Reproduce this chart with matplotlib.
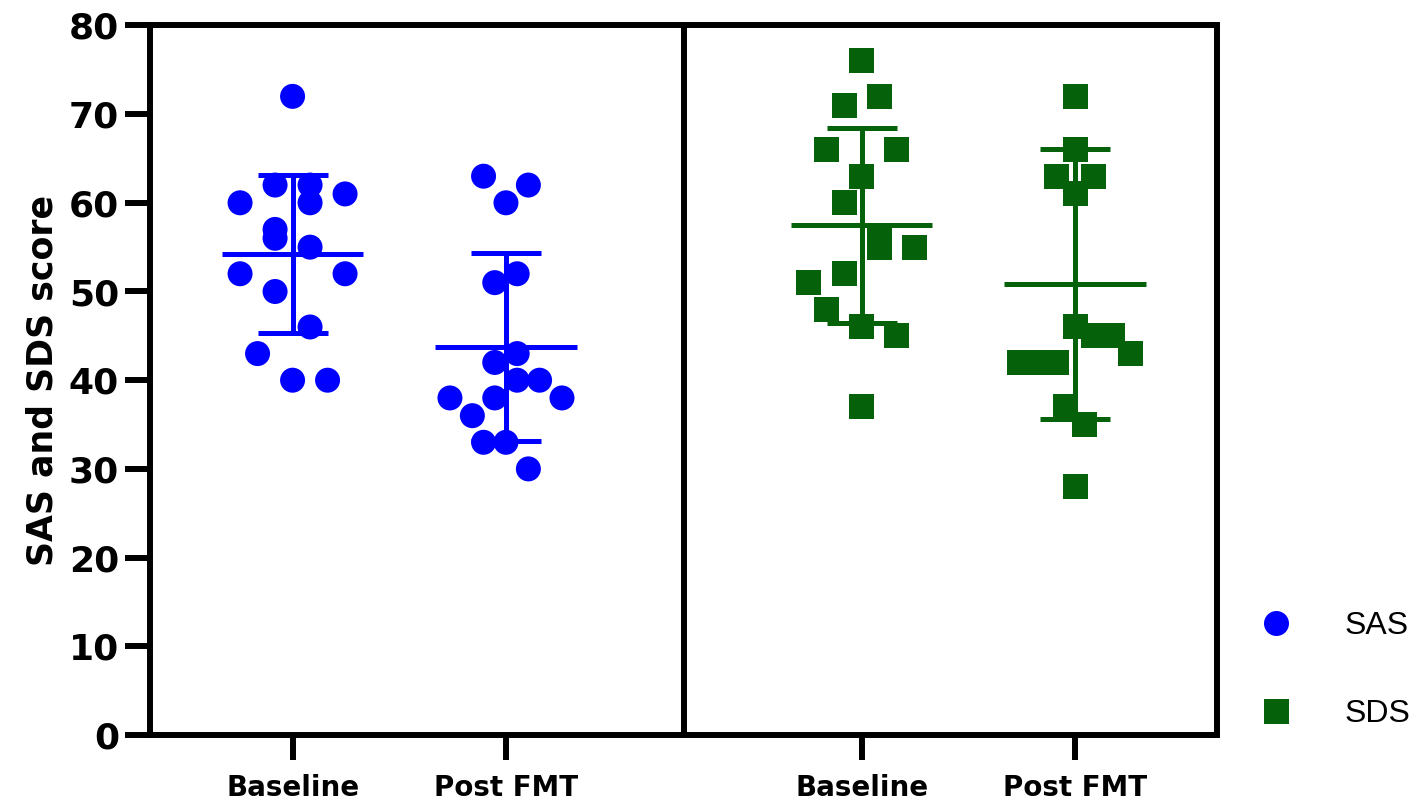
import matplotlib
matplotlib.use("Agg")
import matplotlib.pyplot as plt
from matplotlib.lines import Line2D
import numpy as np

# ---------------- data ----------------
group_labels = ["Baseline", "Post FMT", "Baseline", "Post FMT"]
series_names = ["SAS", "SDS"]

sas_baseline = [72, 62, 62, 61, 60, 60, 57, 56, 55, 52, 52, 50, 46, 43, 40, 40]
sas_post = [63, 62, 60, 52, 51, 43, 42, 40, 40, 38, 38, 38, 36, 33, 33, 30]
sds_baseline = [76, 72, 71, 66, 66, 63, 60, 56, 55, 55, 52, 51, 48, 46, 45, 37]
sds_post = [72, 66, 63, 63, 61, 46, 45, 45, 43, 42, 42, 42, 37, 35, 28]

# mean and SD bars as drawn in the reference
group_means = [54.25, 43.7, 57.45, 50.85]
group_sds = [8.9, 10.6, 10.95, 15.25]

# ---------------- layout / style ----------------
# horizontal scatter slots (layout of the dot arrangement)
sas_baseline_slots = [0, -1, 1, 3, -3, 1, -1, -1, 1, -3, 3, -1, 1, -2, 0, 2]
sas_post_slots = [-2, 2, 0, 1, -1, 1, -1, 1, 3, -5, -1, 5, -3, -2, 0, 2]
sds_baseline_slots = [0, 1, -1, -2, 2, 0, -1, 1, 1, 3, -1, -3, -2, 0, 2, 0]
sds_post_slots = [0, 0, -1, 1, 0, 0, 1, 2, 3, -3, -2, -1, -0.5, 0.5, 0]
slot_steps = [0.082, 0.0525, 0.0825, 0.0867]
positions = [2 / 3, 5 / 3, 10 / 3, 13 / 3]

BLUE = "#0000ff"
GREEN = "#05620a"
colors = [BLUE, BLUE, GREEN, GREEN]
markers = ["o", "o", "s", "s"]

values = [sas_baseline, sas_post, sds_baseline, sds_post]
slots = [sas_baseline_slots, sas_post_slots, sds_baseline_slots, sds_post_slots]

LW = 4.3
BAR_LW = 3.6
MS = 18

fig = plt.figure(figsize=(14.18, 8.07), dpi=100)
ax = fig.add_axes([150.3 / 1418, 1 - 735 / 807, 1067 / 1418, (735 - 25.4) / 807])

for i in range(4):
    pos = positions[i]
    v = np.asarray(values[i], dtype=float)
    xs = pos + np.asarray(slots[i], dtype=float) * slot_steps[i]
    ax.scatter(xs, v, s=MS ** 2, marker=markers[i], color=colors[i],
               edgecolors="none", zorder=3, clip_on=False)
    m, sd = group_means[i], group_sds[i]
    ax.hlines(m, pos - 0.332, pos + 0.332, color=colors[i], lw=BAR_LW, zorder=4)
    ax.vlines(pos, m - sd, m + sd, color=colors[i], lw=BAR_LW, zorder=4)
    ax.hlines([m - sd, m + sd], pos - 0.164, pos + 0.164, color=colors[i],
              lw=BAR_LW, zorder=4)

ax.axvline(2.5, color="black", lw=LW, zorder=5)

ax.set_xlim(0, 5)
ax.set_ylim(0, 80)
ax.set_yticks(np.arange(0, 81, 10))
ax.set_xticks(positions)
ax.set_xticklabels(group_labels)

for sp in ax.spines.values():
    sp.set_linewidth(LW)
    sp.set_color("black")

ax.tick_params(axis="both", direction="out", length=18, width=LW, color="black")
ax.tick_params(axis="y", pad=4.5)
ax.tick_params(axis="x", pad=10)

for lab in ax.get_yticklabels():
    lab.set_fontsize(26)
    lab.set_fontweight("bold")
    lab.set_family("DejaVu Sans")
for lab in ax.get_xticklabels():
    lab.set_fontsize(20)
    lab.set_fontweight("bold")
    lab.set_family("DejaVu Sans")

ax.set_ylabel("SAS and SDS score", fontsize=25, fontweight="bold",
              family="DejaVu Sans")
ax.yaxis.set_label_coords(-0.085, 0.5)

handles = [
    Line2D([], [], ls="none", marker="o", color=BLUE, markersize=MS,
           markeredgewidth=0),
    Line2D([], [], ls="none", marker="s", color=GREEN, markersize=MS,
           markeredgewidth=0),
]
fig.legend(handles, series_names, loc="center left",
           bbox_to_anchor=(1260 / 1418, 1 - 670 / 807),
           frameon=False, borderpad=0, borderaxespad=0, handlelength=1.0,
           handletextpad=1.66, labelspacing=1.81,
           prop={"family": "Liberation Sans", "size": 23})

fig.savefig("out.png", dpi=100)
